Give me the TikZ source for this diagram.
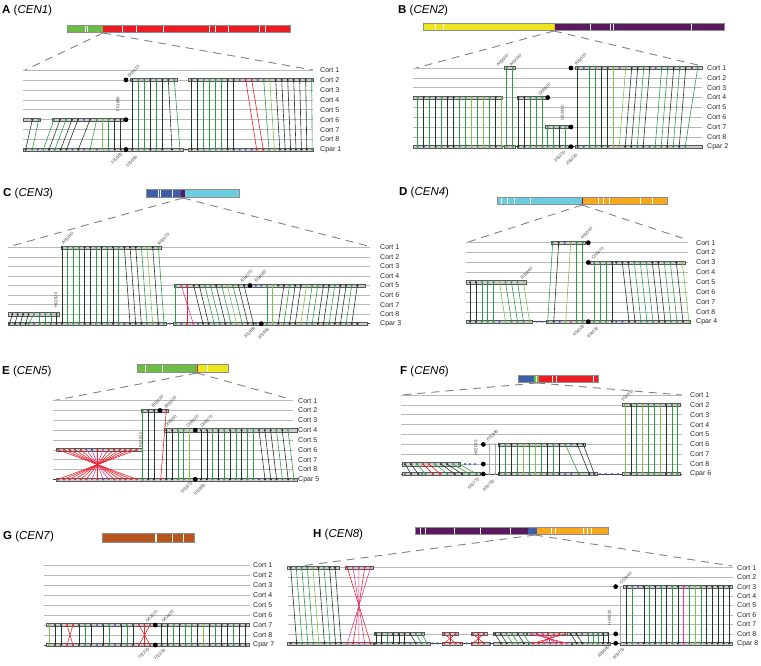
\documentclass[tikz,border=0pt]{standalone}
\usepackage{fontspec}
\setmainfont{Liberation Sans}
\definecolor{cK}{HTML}{1E3A24}
\definecolor{cG}{HTML}{2E9A48}
\definecolor{cL}{HTML}{7DC24B}
\definecolor{cB}{HTML}{3C5CC8}
\definecolor{cR}{HTML}{E8232B}
\definecolor{cP}{HTML}{E23A8C}
\definecolor{cGy}{HTML}{A8A8A8}
\definecolor{chG}{HTML}{6CBD45}
\definecolor{chR}{HTML}{EC1C24}
\definecolor{chY}{HTML}{EEE61C}
\definecolor{chPu}{HTML}{5A1A5E}
\definecolor{chBl}{HTML}{3E5EAA}
\definecolor{chCy}{HTML}{6CCCE0}
\definecolor{chOr}{HTML}{F8A81C}
\definecolor{chBr}{HTML}{B4561E}
\newcounter{gidn}
\tikzset{
 trk/.style={draw=black!28, line width=0.6pt},
 cpt/.style={draw=black!75, line width=0.5pt},
 lkl/.style={line width=0.6pt},
 bkst/.style={fill=black!20, draw=black!65, line width=0.3pt},
 zoomd/.style={draw=black!50, line width=0.9pt, dash pattern=on 8pt off 6pt},
 tlab/.style={font=\fontsize{7}{8}\selectfont, anchor=west, inner sep=0pt, text=black!85},
 gid/.style={font=\fontsize{4.3}{5}\selectfont, text=black!75, inner sep=0.2pt},
 ttl/.style={anchor=west, inner sep=0pt, font=\fontsize{11.5}{13}\selectfont},
 chrom/.style={draw=black!45, line width=0.5pt},
 wl/.style={draw=white, line width=0.5pt},
}
\newcommand\mylk[5]{\draw[lkl,#5] (#1,#2) -- (#3,#4);\fill[#5] (#1,#2) circle[radius=1.2pt] (#3,#4) circle[radius=1.2pt];}
\newcommand\mylg[7]{\foreach \cc [count=\ii from 0] in {#7}{\mylk{#1+\ii*#2}{#3}{#4+\ii*#5}{#6}{\cc}}}
\newcommand\mydx[3]{\foreach \xx in {#1}{\fill[#3] (\xx,#2) circle[radius=1.2pt];}}
\newcommand\mybk[3]{\filldraw[bkst] (#1,{#3-1.6}) rectangle (#2,{#3+1.6});}
\newcommand\mybd[2]{\fill[black] (#1,#2) circle[radius=2.4pt];}
\newcommand\labu[3]{\stepcounter{gidn}\node[gid,rotate=45,anchor=west] (g\thegidn) at (#1,#2) {#3};}
\newcommand\labd[3]{\stepcounter{gidn}\node[gid,rotate=45,anchor=east] (g\thegidn) at (#1,#2) {#3};}
\newcommand\labv[3]{\stepcounter{gidn}\node[gid,rotate=90] (g\thegidn) at (#1,#2) {#3};}
\newcommand\mytracks[7]{%
 \foreach \k in {1,...,8}{\draw[trk] (#2,{#4+(\k-1)*#5}) -- (#3,{#4+(\k-1)*#5});
   \node[tlab] (#1t\k) at (#6,{#4+(\k-1)*#5}) {Cort \k};}
 \draw[cpt] (#2,{#4+8*#5}) -- (#3,{#4+8*#5});
 \node[tlab] (#1cp) at (#6,{#4+8*#5}) {#7};}
\newcommand\mywl[3]{\foreach \xx in {#1}{\draw[wl] (\xx,{#2+0.5}) -- (\xx,{#3-0.5});}}
\begin{document}
\begin{tikzpicture}[x=1pt,y=-1pt]
\useasboundingbox (0,0) rectangle (761,665);
%%%%%%%%%%%%%%%% A
\node[ttl] (tA) at (2,11) {\textbf{A} (\textit{CEN1})};
\fill[chG] (67,25) rectangle (103,32); \fill[chR] (103,25) rectangle (290,32);
\mywl{85,87.3,122.7,136.7,163.3,209.3,215,228.3,259.3,265.7}{25}{32}
\draw[chrom] (67,25) rectangle (290,32);
\draw[zoomd] (103,33) -- (25,70); \draw[zoomd] (103,33) -- (313,70);
\mytracks{A}{23}{313}{70}{9.9375}{320}{Cpar 1}
\mybk{23}{40}{119.7} \mybk{52}{123}{119.7} \mybk{23}{183}{149.5} \mybk{130}{177}{79.9} \mybk{188}{313}{79.9} \mybk{188}{313}{149.5}
\mylg{32.3}{6.4}{119.7}{25.7}{6.6}{149.5}{cK,cG}
\mylg{54}{6}{119.7}{43.3}{5.8}{149.5}{cG,cK,cG,cK,cK}
\mylk{90}{119.7}{78.3}{149.5}{cK}
\mylk{96.7}{119.7}{90}{149.5}{cG}
\mylg{102.7}{6}{119.7}{102.7}{6}{149.5}{cL,cG,cK,cK}
\mydx{84}{119.7}{cB}
\mydx{37.7,72.5,84,96.7}{149.5}{cB}
\mylg{132.3}{6}{79.9}{132.3}{6}{149.5}{cK,cG,cG,cK,cG,cK}
\mylk{168.3}{79.9}{172}{149.5}{cK}
\mylk{174.3}{79.9}{180}{149.5}{cG}
\mydx{185.5}{149.5}{cB}
\mylg{191.7}{6}{79.9}{191.7}{6}{149.5}{cK,cK,cG,cG,cG,cG,cK,cK}
\mydx{239.7,257.7}{79.9}{cB}
\mylk{245.7}{79.9}{256.7}{149.5}{cR}
\mylk{251.7}{79.9}{263.3}{149.5}{cR}
\mydx{239.7,245.7,251.7}{149.5}{cB}
\mylg{263.7}{6}{79.9}{269}{5.4}{149.5}{cG,cL,cK,cK,cK,cK,cK,cK,cG}
\mybd{126}{79.9} \mybd{126}{119.7} \mybd{126}{149.5}
\labu{128}{77}{B03010} \labv{118}{104}{F01680} \labd{122}{153}{101680} \labd{137}{156}{101690}
%%%%%%%%%%%%%%%% B
\node[ttl] (tB) at (398,11) {\textbf{B} (\textit{CEN2})};
\fill[chY] (423,23) rectangle (554,30); \fill[chPu] (554,23) rectangle (724,30);
\draw[chOr, line width=0.8pt] (554,23.5) -- (554,29.5);
\mywl{435,443.3,590.7,610,613.3,691.7}{23}{30}
\draw[chrom] (423,23) rectangle (724,30);
\draw[zoomd] (554,31) -- (416,68); \draw[zoomd] (554,31) -- (702,66);
\mytracks{B}{413}{702}{68}{9.8375}{707}{Cpar 2}
\mybk{413}{502.3}{97.5} \mybk{504}{515}{68} \mybk{516.7}{547}{97.5} \mybk{545}{568}{127} \mybk{575}{702}{68}
\mybk{413}{502.3}{146.7} \mybk{504}{515}{146.7} \mybk{516.7}{568}{146.7} \mybk{575}{702}{146.7}
\mylg{417.7}{6}{97.5}{417.7}{6}{146.7}{cG,cK,cG,cK,cG,cK,cK,cG,cG,cL,cG,cL,cG,cK,cL}
\mylg{506.7}{6}{68}{506.7}{6}{146.7}{cG,cG}
\mylg{518.3}{6}{97.5}{518.3}{6}{146.7}{cK,cK,cG,cG,cG}
\mylg{547.7}{6}{127}{547.7}{6}{146.7}{cG,cG,cK,cG}
\mybd{547.7}{97.5} \mybd{571}{127} \mybd{571}{146.7} \mybd{571}{68}
\mylk{577.7}{68}{577.7}{146.7}{cK}
\mydx{583.7}{68}{cB}
\mylg{589.7}{6}{68}{589.7}{6}{146.7}{cG,cG,cK,cK,cL}
\mydx{619.7}{68}{cB}
\mylg{625.7}{6}{68}{619.2}{6}{146.7}{cL,cK,cK,cG,cK}
\mydx{655.7}{68}{cB}
\mylg{661.7}{6}{68}{655.2}{6}{146.7}{cG,cG,cK,cG,cK}
\mydx{691.7}{68}{cK}
\mylk{697.7}{68}{685.2}{146.7}{cG}
\mydx{583.7,649.5}{146.7}{cB}
\labu{497}{66}{A05600} \labu{510}{66}{A05590} \labu{575}{65}{A05550} \labu{539}{95}{D06300}
\labv{562.5}{113}{G02410} \labd{565}{151}{206210} \labd{577}{154}{206220}
%%%%%%%%%%%%%%%% C
\node[ttl] (tC) at (3,194) {\textbf{C} (\textit{CEN3})};
\fill[chBl] (146,189) rectangle (181,197); \fill[chPu] (181,189) rectangle (185,197); \fill[chCy] (185,189) rectangle (239,197);
\mywl{158.7,160,172.7}{189}{197}
\draw[chrom] (146,189) rectangle (239,197);
\draw[zoomd] (183,198) -- (8,247); \draw[zoomd] (183,198) -- (368,246);
\mytracks{C}{8}{370}{247.3}{9.55}{380}{Cpar 3}
\mybk{8}{58.7}{314.2} \mybk{60.7}{161}{247.3} \mybk{173.7}{365}{285.5} \mybk{8}{166}{323.7} \mybk{173}{367}{323.7}
\mylg{12.3}{5.4}{314.2}{9.5}{5.4}{323.7}{cK,cK,cK,cK}
\mylk{34}{314.2}{28.7}{323.7}{cG}
\mylg{39.7}{5.6}{314.2}{39.7}{5.6}{323.7}{cG,cG,cG,cK}
\mydx{34}{323.7}{cB}
\mylg{62}{5.67}{247.3}{62}{5.67}{323.7}{cK,cG,cG,cG,cK,cK,cG,cK,cG,cK,cG}
\mylg{124.4}{5.67}{247.3}{130}{5.67}{323.7}{cK,cK,cK,cG,cL,cK,cG}
\mydx{124.4,170}{323.7}{cB}
\mylk{175.7}{285.5}{175.7}{323.7}{cG}
\mylk{181.3}{285.5}{193.3}{323.7}{cP}
\mylk{187}{285.5}{187}{323.7}{cR}
\mylg{193.7}{5.6}{285.5}{203}{5.6}{323.7}{cK,cK,cG,cG,cK,cG,cL,cG,cK,cK}
\mydx{255.7,261.3}{285.5}{cB}
\mylk{267}{285.5}{267}{323.7}{cG}
\mylk{272.7}{285.5}{272.7}{323.7}{cL}
\mydx{278.3}{285.5}{cK}
\mylg{283.9}{5.65}{285.5}{278.3}{5.65}{323.7}{cK,cG,cK,cK,cL,cG,cG,cK,cK,cG,cK,cK,cG,cK}
\mydx{181.3,198,256}{323.7}{cB}
\mydx{357.4}{323.7}{cK}
\mybd{250}{285.5} \mybd{261.3}{323.7}
\labu{62}{244}{A05260} \labu{158}{245}{A05470} \labv{56}{300}{H01620}
\labu{241}{282}{E04070} \labu{255}{282}{E04080} \labd{255}{327}{301980} \labd{269}{328}{301990}
%%%%%%%%%%%%%%%% D
\node[ttl] (tD) at (399,193) {\textbf{D} (\textit{CEN4})};
\fill[chCy] (497,197) rectangle (582,204); \fill[chOr] (582,197) rectangle (667,204);
\draw[chPu, line width=0.9pt] (582,197.5) -- (582,203.5);
\mywl{501.7,507.7,514.3,530,598.3,603.3,609.3,640,652.7}{197}{204}
\draw[chrom] (497,197) rectangle (667,204);
\draw[zoomd] (582,205) -- (466,242.7); \draw[zoomd] (582,205) -- (688,240);
\mytracks{D}{466}{688}{242.7}{9.875}{696}{Cpar 4}
\mybk{466}{525.7}{282.2} \mybk{550.7}{585}{242.7} \mybk{590}{685}{262.5} \mybk{466}{531.7}{321.7} \mybk{545.7}{690}{321.7}
\mylg{470}{5.9}{282.2}{470}{5.9}{321.7}{cK,cK,cG,cG,cG}
\mylg{499.5}{6}{282.2}{505.5}{6}{321.7}{cL,cG,cG,cG,cL}
\mydx{499.5}{321.7}{cB}
\mydx{537,542}{321.7}{cB}
\mylk{552.7}{242.7}{547.7}{321.7}{cG}
\mylk{558.7}{242.7}{553.7}{321.7}{cK}
\mydx{564.7}{242.7}{cB}
\mylk{570.7}{242.7}{565.7}{321.7}{cL}
\mylk{576.7}{242.7}{576.7}{321.7}{cG}
\mylk{582.7}{242.7}{582.7}{321.7}{cG}
\mydx{559.7}{321.7}{cB} \mydx{571}{321.7}{cP}
\mybd{588.3}{242.7} \mybd{588.3}{262.5} \mybd{588.3}{321.7}
\mylg{594}{6}{262.5}{594}{6}{321.7}{cG,cG,cG,cK}
\mydx{616.3}{262.5}{cK}
\mylg{622.3}{6}{262.5}{629}{6}{321.7}{cK,cK,cG,cG,cG,cK,cK,cG,cG,cK,cL}
\mydx{616.3,622.3}{321.7}{cB}
\labu{581}{239}{A05540} \labu{592}{259}{C03470} \labu{521}{279}{E03840}
\labd{584}{325}{404020} \labd{598}{327}{404030}
%%%%%%%%%%%%%%%% E
\node[ttl] (tE) at (2,372) {\textbf{E} (\textit{CEN5})};
\fill[chG] (137,364) rectangle (197,372); \fill[chY] (197,364) rectangle (228,372);
\draw[chR, line width=0.8pt] (197,364.5) -- (197,371.5);
\mywl{145.7,162.3,207.7}{364}{372}
\draw[chrom] (137,364) rectangle (228,372);
\draw[zoomd] (197,373) -- (53,400.7); \draw[zoomd] (197,373) -- (290,399);
\mytracks{E}{53}{293}{400.7}{9.825}{298}{Cpar 5}
\mybk{56}{141.7}{449.8} \mybk{140.7}{168.3}{410.5} \mybk{164.3}{296.7}{430.2} \mybk{56}{141.7}{479.3} \mybk{141.7}{296.7}{479.3}
\foreach \cc [count=\ii from 0] in {cR,cR,cR,cR,cR,cP,cP,cR,cP,cR,cR,cR,cR,cR,cR}{\mylk{58.3+\ii*5.6}{449.8}{136.7-\ii*5.6}{479.3}{\cc}}
\mydx{91.9}{449.8}{cB} \mydx{103.1}{479.3}{cB}
\mylk{142.7}{410.5}{142.7}{479.3}{cG}
\mylk{148.3}{410.5}{148.3}{479.3}{cK}
\mylk{154}{410.5}{154}{479.3}{cK}
\mylk{166.3}{410.5}{160.7}{479.3}{cR}
\mybd{160}{410.5}
\mylg{166.3}{5.8}{430.2}{166.3}{5.8}{479.3}{cK,cK,cG,cG,cL}
\mybd{195.3}{430.2} \mybd{195.3}{479.3}
\mylg{201}{5.8}{430.2}{201}{5.8}{479.3}{cK,cK,cG,cK,cG,cK,cG,cK,cG,cG}
\mylg{259}{5.8}{430.2}{265}{5.8}{479.3}{cK,cK,cK,cG,cK,cG}
\mydx{259}{479.3}{cB}
\labu{152}{407}{B03030} \labu{165}{408}{B03020} \labv{141}{440}{B02910}
\labu{165}{427}{D06360} \labu{187}{427}{D06320} \labu{201}{427}{D06370}
\labd{192}{482}{502870} \labd{205}{484}{502880}
%%%%%%%%%%%%%%%% F
\node[ttl] (tF) at (400,372) {\textbf{F} (\textit{CEN6})};
\fill[chBl] (518,375) rectangle (534,382); \fill[chG] (534,375) rectangle (539,382); \fill[chR] (539,375) rectangle (598,382);
\mywl{536.7,552.7,556,593.3}{375}{382}
\draw[chrom] (518,375) rectangle (598,382);
\draw[zoomd] (537,383) -- (401,395); \draw[zoomd] (537,383) -- (682,395);
\mytracks{F}{401}{682}{395}{9.875}{690}{Cpar 6}
\mybk{401.7}{460}{464.1} \mybk{498.3}{585}{444.4} \mybk{622.3}{680}{404.9} \mybk{401.7}{480}{474} \mybk{498.3}{597}{474} \mybk{622.3}{680}{474}
\mylg{405}{6}{464.1}{411}{7.3}{474}{cK,cK,cG,cR,cR,cG,cK,cK,cG,cG}
\mydx{465,470,475}{464.1}{cB}
\mydx{405,422}{474}{cB}
\mybd{483.3}{444.4} \mybd{483.3}{464.1} \mybd{483.3}{474}
\mylg{489.3}{5.7}{444.4}{489.3}{5.7}{474}{cGy,cGy}
\mylg{499.3}{6}{444.4}{499.3}{6}{474}{cK,cG,cK,cG,cL,cG,cL,cG,cK,cG,cK}
\mylk{565.3}{444.4}{578.7}{474}{cG}
\mydx{571.3}{444.4}{cB}
\mylk{577.3}{444.4}{589.3}{474}{cK}
\mylk{583.3}{444.4}{594.3}{474}{cK}
\mydx{565.3,571.3}{474}{cB}
\mydx{600,606,612,618}{474}{cB}
\mylg{625}{5.85}{404.9}{625}{5.85}{474}{cL,cK,cG,cL,cG,cG,cL,cK,cG,cG}
\labu{622}{401}{F02050} \labu{487}{441}{F01840} \labv{476}{448}{H02030}
\labd{479}{478}{600770} \labd{494}{480}{600780}
%%%%%%%%%%%%%%%% G
\node[ttl] (tG) at (3,537) {\textbf{G} (\textit{CEN7})};
\fill[chBr] (102,533) rectangle (194,542);
\mywl{155,156.7,172.7,183.3}{533}{542}
\draw[chrom] (102,533) rectangle (194,542);
\mytracks{G}{44}{250}{565}{10}{253}{Cpar 7}
\mybk{46}{249}{625} \mybk{46}{249}{645}
\mylg{49}{6}{625}{49}{6}{645}{cL,cK,cK}
\mylk{67}{625}{73}{645}{cR} \mylk{73}{625}{67}{645}{cR}
\mylg{79}{6}{625}{79}{6}{645}{cK,cG,cK}
\mydx{97,115}{625}{cB} \mydx{97,115}{645}{cB}
\mylg{103}{6}{625}{103}{6}{645}{cK,cG}
\mylg{121}{6}{625}{121}{6}{645}{cK,cG,cK}
\mylk{139}{625}{150}{645}{cR} \mylk{150}{625}{139}{645}{cR} \mylk{144.5}{625}{144.5}{645}{cR}
\mybd{155.3}{625} \mybd{155.3}{645}
\mylg{161.7}{6}{625}{161.7}{6}{645}{cK,cK,cG,cK,cG,cG,cK,cL,cK,cG,cK,cK,cG,cK,cK}
\labu{146}{622}{G02370} \labu{162}{622}{G02420} \labd{149}{648}{702220} \labd{165}{649}{702230}
%%%%%%%%%%%%%%%% H
\node[ttl] (tH) at (313,535) {\textbf{H} (\textit{CEN8})};
\fill[chPu] (415,527) rectangle (528,534); \fill[chBl] (528,527) rectangle (537,534); \fill[chOr] (537,527) rectangle (608,534);
\mywl{420,425.3,454.3,480,510,551.7,555,583.3,587.3,591.7}{527}{534}
\draw[chrom] (415,527) rectangle (608,534);
\draw[zoomd] (535,535) -- (288,567.7); \draw[zoomd] (535,535) -- (732,566);
\mytracks{H}{288}{733}{567.7}{9.45}{737}{Cpar 8}
\mybk{287.3}{339.3}{567.7} \mybk{345}{372.7}{567.7} \mybk{287.3}{372.7}{643.3}
\mybk{374.3}{424}{633.9} \mybk{374.3}{430}{643.3}
\mybk{442.3}{458}{633.9} \mybk{442.3}{462}{643.3}
\mybk{470.7}{486.7}{633.9} \mybk{470.7}{490}{643.3}
\mybk{493.3}{526}{633.9} \mybk{493.3}{528}{643.3}
\mybk{527.3}{567}{633.9} \mybk{528}{571}{643.3}
\mybk{567.3}{608.3}{633.9} \mybk{572}{610}{643.3}
\mybk{623.3}{731.7}{586.6} \mybk{620}{732}{643.3}
\mylg{290.7}{5.55}{567.7}{296.7}{5.55}{643.3}{cK,cG,cG,cG,cL,cK,cG,cK,cK}
\mydx{290.7}{643.3}{cK}
\foreach \cc [count=\ii from 0] in {cR,cP,cP,cR,cP}{\mylk{347.3+\ii*5.8}{567.7}{370.5-\ii*5.8}{643.3}{\cc}}
\mylg{376}{5.7}{633.9}{376}{5.7}{643.3}{cK,cK,cG,cK,cK,cK}
\mylg{410.2}{5.7}{633.9}{415.9}{5.7}{643.3}{cK,cG,cG}
\mydx{410.2,433,438}{643.3}{cB}
\mylk{444.3}{633.9}{455.7}{643.3}{cR} \mylk{455.7}{633.9}{444.3}{643.3}{cR} \mylk{450}{633.9}{450}{643.3}{cR}
\mydx{460.5}{643.3}{cR} \mydx{466.7}{643.3}{cB}
\mylk{472.7}{633.9}{484}{643.3}{cR} \mylk{484}{633.9}{472.7}{643.3}{cR} \mylk{478.3}{633.9}{478.3}{643.3}{cR}
\mydx{490}{643.3}{cB}
\mylg{495}{5.7}{633.9}{501}{5.7}{643.3}{cK,cK,cG,cG,cK,cG}
\foreach \cc [count=\ii from 0] in {cP,cR,cP,cR,cP,cR,cR}{\mylk{531+\ii*5.7}{633.9}{567.2-\ii*5.7}{643.3}{\cc}}
\mylg{570.7}{5.7}{633.9}{576.7}{5.7}{643.3}{cK,cK}
\mydx{582.1}{633.9}{cB}
\mylg{587.8}{5.1}{633.9}{587.8}{5.1}{643.3}{cG,cG,cG,cK,cK}
\mybd{615.7}{586.6} \mybd{615.7}{633.9} \mybd{615.7}{643.3}
\draw[cGy,line width=0.6pt] (620.5,586.6) -- (620.5,643.3);
\mylg{626.7}{5.7}{586.6}{626.7}{5.7}{643.3}{cK,cG}
\mydx{638.1}{586.6}{cB} \mydx{638.1}{643.3}{cB}
\mylg{643.8}{5.7}{586.6}{643.8}{5.7}{643.3}{cK,cG,cK,cG,cK,cG,cK,cP,cG,cL,cG,cK,cK,cK,cK,cK}
\labu{620}{584}{C03440} \labv{609.3}{617.5}{H02020}
\labd{609}{646}{805690} \labd{624}{648}{805700}
\end{tikzpicture}
\end{document}
